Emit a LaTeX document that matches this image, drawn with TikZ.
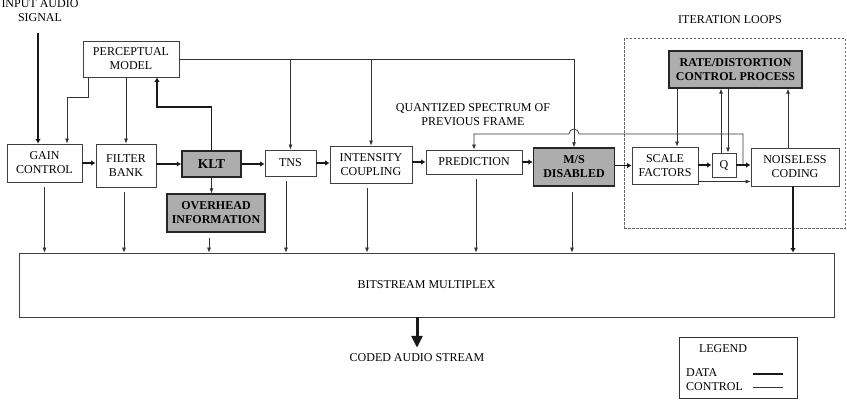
\documentclass[tikz,border=0pt]{standalone}
\usepackage{fontspec}
\setmainfont{Liberation Serif}
\usetikzlibrary{
arrows,
arrows.meta,
positioning
}
\tikzset{>=latex}

\begin{document}
\begin{tikzpicture}[x=1pt,y=1pt,>={Latex[length=5pt,width=4pt]},
    every node/.style={font=\fontsize{12}{14}\selectfont,align=center,inner sep=0pt},
    blk/.style={draw=black!75,line width=0.8pt,fill=white},
    gblk/.style={draw=black!85,line width=1.4pt,fill=black!32,font=\fontsize{12}{14}\selectfont\bfseries},
    dline/.style={draw=black!90,line width=1.8pt,-{Latex[length=4.5pt,width=5.5pt]}},
    cline/.style={draw=black!80,line width=0.7pt,->}]
    \useasboundingbox (0,0) rectangle (847,-408);

    % iteration loops frame
    \node[draw=black!60,line width=0.8pt,dash pattern=on 2.5pt off 1.5pt,
          minimum width=221pt,minimum height=190pt] (loops) at (734.5,-133) {};
    \node (iter) at (730,-20) {ITERATION LOOPS};

    % blocks
    \node[blk,minimum width=96pt,minimum height=36pt] (pm) at (131,-59) {PERCEPTUAL\\MODEL};
    \node[blk,minimum width=75pt,minimum height=38pt] (gain) at (44.5,-163) {GAIN\\CONTROL};
    \node[blk,minimum width=60pt,minimum height=43pt] (filt) at (126,-165.5) {FILTER\\BANK};
    \node[gblk,minimum width=59pt,minimum height=26pt,font=\fontsize{13.5}{14}\selectfont\bfseries] (klt) at (211.5,-164) {KLT};
    \node[gblk,minimum width=98pt,minimum height=38pt] (ovh) at (216,-213) {OVERHEAD\\INFORMATION};
    \node[blk,minimum width=51pt,minimum height=26pt] (tns) at (290.5,-163) {TNS};
    \node[blk,minimum width=82pt,minimum height=37pt] (int) at (371,-164.5) {INTENSITY\\COUPLING};
    \node[blk,minimum width=96pt,minimum height=24pt] (pred) at (474,-162) {PREDICTION};
    \node[gblk,minimum width=81pt,minimum height=38pt] (ms) at (574,-167) {M/S\\DISABLED};
    \node[blk,minimum width=66pt,minimum height=37pt] (sf) at (665,-165.5) {SCALE\\FACTORS};
    \node[blk,minimum width=24pt,minimum height=24pt] (q) at (724,-165) {Q};
    \node[blk,minimum width=88pt,minimum height=38pt] (nc) at (795,-167) {NOISELESS\\CODING};
    \node[gblk,minimum width=133pt,minimum height=37pt] (rd) at (735.5,-69.5) {RATE/DISTORTION\\CONTROL PROCESS};
    \node[blk,minimum width=815pt,minimum height=64pt] (bits) at (426.5,-285) {BITSTREAM MULTIPLEX};

    % free labels
    \node (input) at (40,-11) {INPUT AUDIO\\SIGNAL};
    \node (quant) at (473,-115) {QUANTIZED SPECTRUM OF\\PREVIOUS FRAME};
    \node (coded) at (417,-358) {CODED AUDIO STREAM};

    % data path
    \coordinate (src) at (38,-33);
    \draw[dline] (src) -- (src |- gain.north);
    \draw[dline] (gain.east) -- (gain.east -| filt.west);
    \draw[dline] (klt.west -| filt.east) -- (klt.west);
    \draw[dline] (klt.east) -- (klt.east -| tns.west);
    \draw[dline] (tns.east) -- (tns.east -| int.west);
    \draw[dline] (pred.west -| int.east) -- (pred.west);
    \draw[dline] (pred.east) -- (pred.east -| ms.west);
    \draw[dline] (sf.west -| ms.east) -- (sf.west);
    \draw[dline] (q.west -| sf.east) -- (q.west);
    \draw[dline] (q.east) -- (q.east -| nc.west);
    \coordinate (kp) at (157,-107);
    \draw[dline] (klt.north) |- (kp) -- (kp |- pm.south);
    \draw[dline] ([xshift=-2pt]nc.south) -- ([xshift=-2pt]nc.south |- bits.north);
    \draw[draw=black!90,line width=3pt,-{Triangle[length=12pt,width=11pt]}]
        (bits.south -| coded.north) -- ([yshift=6pt]coded.north);

    % control lines
    \draw[cline] (pm.east) -| (ms.north);
    \draw[cline] (tns.north |- pm.east) -- (tns.north);
    \draw[cline] (int.north |- pm.east) -- (int.north);
    \draw[cline] (filt.north |- pm.south) -- (filt.north);
    \coordinate (pg) at (67,-97);
    \draw[cline] ([xshift=6pt]pm.south west) |- (pg) -- (pg |- gain.north);
    \draw[cline] (klt.south) -- (klt.south |- ovh.north);
    \draw[cline] ([xshift=12pt]sf.north |- rd.south) -- ([xshift=12pt]sf.north);
    \draw[cline] ([xshift=-3pt]q.north) -- ([xshift=-3pt]q.north |- rd.south);
    \draw[cline] ([xshift=4pt]q.north |- rd.south) -- ([xshift=4pt]q.north);
    \draw[cline] ([xshift=-7pt]nc.north) -- ([xshift=-7pt]nc.north |- rd.south);
    \draw[cline] ([yshift=-16pt]sf.east) -- ([yshift=-16pt]sf.east -| nc.west);

    % quantized spectrum fed back, hopping over the M/S control line
    \coordinate (qn) at (743,-165);
    \coordinate (fbk) at (743,-134);
    \draw[cline] (qn) -- (fbk) -- (579,-134) arc[start angle=0,end angle=180,radius=5]
        -- (fbk -| pred.north) -- (pred.north);

    % into the multiplex
    \foreach \b/\s in {gain/0,filt/-2,ovh/-7,tns/-4.5,int/-4,pred/2,ms/-2}
        \draw[cline,shorten <=5pt] ([xshift=\s pt]\b.south) -- ([xshift=\s pt]\b.south |- bits.north);

    % legend
    \node[draw=black!80,line width=0.8pt,minimum width=118pt,minimum height=61pt] (leg) at (738,-367.5) {};
    \node (legt) at (723,-349) {LEGEND};
    \node[anchor=west] (dtxt) at (686,-373) {DATA};
    \node[anchor=west] (ctxt) at (686,-387) {CONTROL};
    \draw[draw=black!90,line width=1.8pt] (753,-374) -- (783,-374);
    \draw[draw=black!80,line width=0.7pt] (753,-387) -- (783,-387);
\end{tikzpicture}
\end{document}
